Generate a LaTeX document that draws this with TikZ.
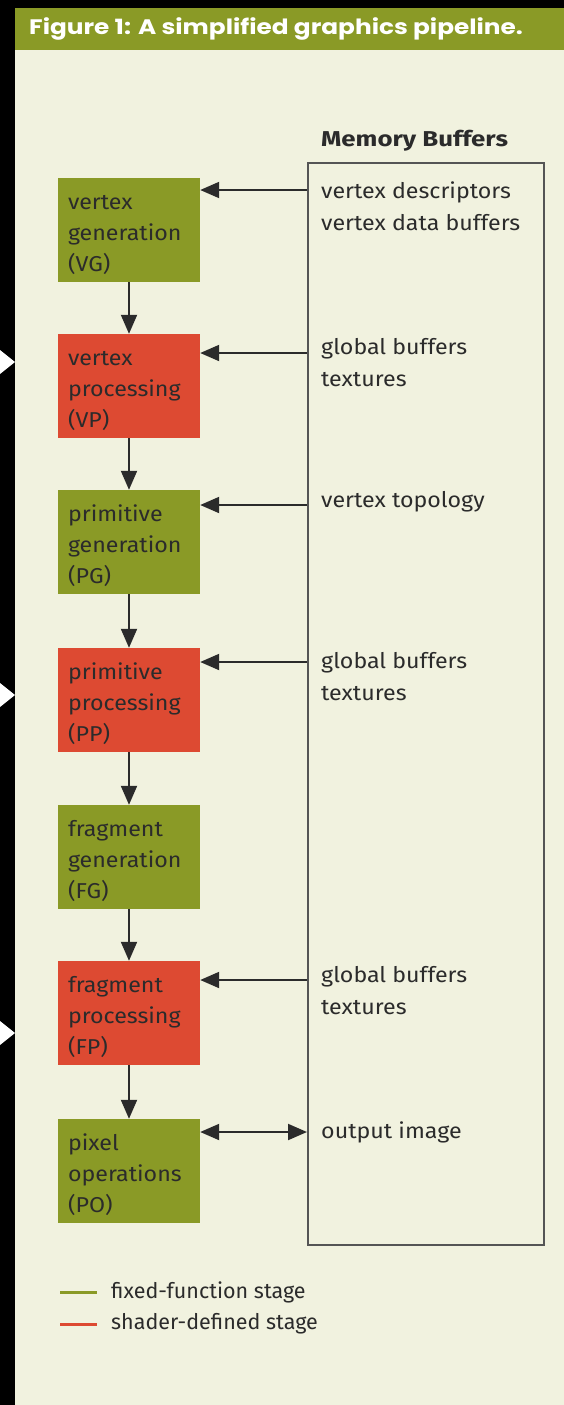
\documentclass[tikz,border=0pt]{standalone}
\usepackage{fontspec}
\setmainfont{Fira Sans}
\newfontfamily\widefont[FakeStretch=1.08]{Fira Sans}
\newfontfamily\memfont[FakeStretch=1.2]{Fira Sans}
\newfontfamily\headfont[FakeStretch=1.18]{Poppins}
\usetikzlibrary{arrows.meta}
\definecolor{olivefill}{HTML}{8A9A26}
\definecolor{shaderfill}{HTML}{DD4A32}
\definecolor{paper}{HTML}{F1F2DF}
\definecolor{ink}{HTML}{2B2B2B}
\definecolor{frame}{HTML}{555555}
\begin{document}
\begin{tikzpicture}[x=1pt,y=-1pt,
  stage/.style={minimum width=142pt,minimum height=104pt,inner sep=0pt,
    text width=122pt,align=left,font=\widefont\fontsize{21.5}{31}\selectfont,text=ink,
    execute at begin node={\rule{0pt}{24pt}}},
  fixedstage/.style={stage,fill=olivefill},
  shaderstage/.style={stage,fill=shaderfill},
  tip/.tip={Triangle[length=19pt,width=16pt]},
  flow/.style={draw=ink,line width=2pt,-tip},
  bothflow/.style={draw=ink,line width=2pt,tip-tip},
  buftext/.style={anchor=west,align=left,font=\widefont\fontsize{21.5}{32}\selectfont,
    text=ink,inner sep=0pt},
  legtext/.style={anchor=west,font=\fontsize{21.5}{21.5}\selectfont,
    text=ink,inner sep=0pt},
]
\useasboundingbox (0,0) rectangle (564,1405);
% page ground
\fill[black] (0,0) rectangle (564,1405);
\fill[paper] (15,8) rectangle (564,1405);
% title bar
\fill[olivefill] (15,8) rectangle (564,50);
\node[anchor=west,text=white,inner sep=0pt,
  font=\headfont\bfseries\fontsize{21}{21}\selectfont] (title) at (29,29)
  {Figure 1: A simplified graphics pipeline.};
% side markers
\fill[white] (0,350) -- (15,362) -- (0,374) -- cycle;
\fill[white] (0,683) -- (15,695) -- (0,707) -- cycle;
\fill[white] (0,1021) -- (15,1033) -- (0,1045) -- cycle;

% pipeline stages
\node[fixedstage]  (vg) at (129,230)  {vertex\\generation\\(VG)};
\node[shaderstage] (vp) at (129,386)  {vertex\\processing\\(VP)};
\node[fixedstage]  (pg) at (129,542)  {primitive\\generation\\(PG)};
\node[shaderstage] (pp) at (129,700)  {primitive\\processing\\(PP)};
\node[fixedstage]  (fg) at (129,857)  {fragment\\generation\\(FG)};
\node[shaderstage] (fp) at (129,1013) {fragment\\processing\\(FP)};
\node[fixedstage]  (po) at (129,1171) {pixel\\operations\\(PO)};

\draw[flow] (vg.south) -- (vp.north);
\draw[flow] (vp.south) -- (pg.north);
\draw[flow] (pg.south) -- (pp.north);
\draw[flow] (pp.south) -- (fg.north);
\draw[flow] (fg.south) -- (fp.north);
\draw[flow] (fp.south) -- (po.north);

% memory buffers
\node[draw=frame,line width=2pt,minimum width=236pt,minimum height=1082pt,
  inner sep=0pt] (mem) at (426,704) {};
\node[anchor=west,inner sep=0pt,text=ink,font=\memfont\bfseries\fontsize{21.5}{21.5}\selectfont]
  (memtitle) at (321,141) {Memory Buffers};

\node[buftext] (b1) at (321,206)  {vertex descriptors\\vertex data buffers};
\node[buftext] (b2) at (321,363)  {global buffers\\textures};
\node[buftext] (b3) at (321,502)  {vertex topology};
\node[buftext] (b4) at (321,677)  {global buffers\\textures};
\node[buftext] (b5) at (321,991)  {global buffers\\textures};
\node[buftext] (b6) at (321,1132) {output image};

\draw[flow] (mem.west |- 0,190)  -- (vg.east |- 0,190);
\draw[flow] (mem.west |- 0,353)  -- (vp.east |- 0,353);
\draw[flow] (mem.west |- 0,505)  -- (pg.east |- 0,505);
\draw[flow] (mem.west |- 0,662)  -- (pp.east |- 0,662);
\draw[flow] (mem.west |- 0,980)  -- (fp.east |- 0,980);
\draw[bothflow] (po.east |- 0,1132) -- (mem.west |- 0,1132);

% legend
\node[legtext] (legfixed)  at (111,1292) {fixed-function stage};
\node[legtext] (legshader) at (111,1324) {shader-defined stage};
\draw[olivefill,line width=3pt] (60,1292) -- ([xshift=-14pt]legfixed.west);
\draw[shaderfill,line width=3pt] (60,1324) -- ([xshift=-14pt]legshader.west);
\end{tikzpicture}
\end{document}
